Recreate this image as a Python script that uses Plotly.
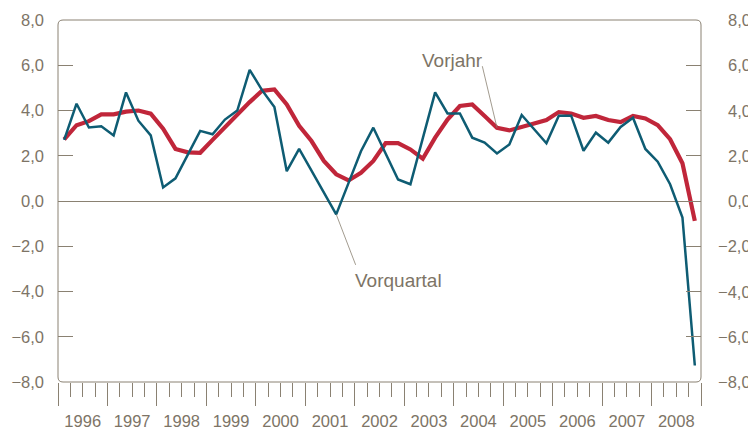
import plotly.graph_objects as go

# ---------------- data ----------------
years = list(range(1996, 2009))
quarters = [f"{y} Q{q}" for y in years for q in range(1, 5)]

vorquartal = [
    2.70, 4.30, 3.25, 3.30,   # 1996
    2.90, 4.80, 3.55, 2.90,   # 1997
    0.60, 1.00, 2.05, 3.10,   # 1998
    2.95, 3.60, 4.00, 5.80,   # 1999
    4.90, 4.15, 1.32, 2.30,   # 2000
    1.34, 0.38, -0.59, 0.80,  # 2001
    2.20, 3.24, 2.10, 0.95,   # 2002
    0.74, 2.80, 4.80, 3.87,   # 2003
    3.87, 2.80, 2.58, 2.10,   # 2004
    2.50, 3.80, 3.15, 2.55,   # 2005
    3.77, 3.77, 2.22, 3.02,   # 2006
    2.58, 3.27, 3.68, 2.30,   # 2007
    1.74, 0.74, -0.73, -7.27, # 2008
]

vorjahr = [
    2.72, 3.35, 3.53, 3.83,   # 1996
    3.83, 3.95, 4.00, 3.86,   # 1997
    3.20, 2.30, 2.15, 2.13,   # 1998
    2.70, 3.27, 3.82, 4.37,   # 1999
    4.87, 4.93, 4.27, 3.32,   # 2000
    2.65, 1.77, 1.18, 0.91,   # 2001
    1.25, 1.77, 2.56, 2.56,   # 2002
    2.28, 1.87, 2.80, 3.60,   # 2003
    4.20, 4.27, 3.76, 3.24,   # 2004
    3.12, 3.27, 3.39, 3.58,   # 2005
    3.93, 3.87, 3.68, 3.76,   # 2006
    3.58, 3.49, 3.76, 3.65,   # 2007
    3.35, 2.73, 1.67, -0.88,  # 2008
]

y_ticks = [-8, -6, -4, -2, 0, 2, 4, 6, 8]
y_tick_labels = ["\u22128,0", "\u22126,0", "\u22124,0", "\u22122,0", "0,0", "2,0", "4,0", "6,0", "8,0"]
year_labels = [str(y) for y in years]

# label anchors (index into quarters)
vorjahr_label_idx = quarters.index("2004 Q4")
vorquartal_label_idx = quarters.index("2001 Q3")

# ---------------- styling ----------------
FONT = "Liberation Sans Narrow, Arial Narrow, Liberation Sans, Arial, sans-serif"
TXT = "#7d7466"
AX = "#8a8172"
BLUE = "#0e5c73"
RED = "#c0263a"
TICK_FS = 16.5
LABEL_FS = 19

x = list(range(len(quarters)))
n = len(quarters)
year_centers = [4 * i + 1.5 for i in range(len(years))]
year_bounds = [4 * i - 0.5 for i in range(len(years) + 1)]
quarter_bounds = [q - 0.5 for q in range(n + 1) if (q % 4) not in (0, 2)]

fig = go.Figure()
fig.add_trace(go.Scatter(x=x, y=vorjahr, mode="lines", name="Vorjahr",
                         line=dict(color=RED, width=4.2), hoverinfo="skip"))
fig.add_trace(go.Scatter(x=x, y=vorquartal, mode="lines", name="Vorquartal",
                         line=dict(color=BLUE, width=2.5), hoverinfo="skip"))

# the page body adds an 8px margin, so the figure is 8px smaller
W, H = 748, 421
ml, mr, mt, mb = 50, 55, 12, 47
pw, ph = W - ml - mr, H - mt - mb

fig.update_layout(
    width=W, height=H,
    margin=dict(l=ml, r=mr, t=mt, b=mb, pad=0, autoexpand=False),
    paper_bgcolor="white", plot_bgcolor="white",
    showlegend=False,
    font=dict(family=FONT, color=TXT, size=TICK_FS),
    xaxis=dict(
        range=[-0.5, n - 0.5], showgrid=False, zeroline=False, showline=False,
        automargin=False,
        tickmode="array", tickvals=year_centers, ticktext=year_labels,
        ticks="outside", ticklen=14, tickwidth=1, tickcolor=AX,
        ticklabelstandoff=10,
        tickfont=dict(family=FONT, color=TXT, size=TICK_FS),
        minor=dict(tickmode="array", tickvals=quarter_bounds, ticks="outside",
                   ticklen=14, tickwidth=1, tickcolor=AX, showgrid=False),
    ),
    xaxis2=dict(
        range=[-0.5, n - 0.5], overlaying="x", side="bottom", anchor="y",
        automargin=False,
        showgrid=False, zeroline=False, showline=False,
        tickmode="array", tickvals=year_bounds, ticks="outside", ticklen=23,
        tickwidth=1, tickcolor=AX, showticklabels=False,
    ),
    yaxis=dict(
        range=[-8, 8], showgrid=False, showline=False, automargin=False,
        zeroline=True, zerolinecolor=AX, zerolinewidth=1,
        tickmode="array", tickvals=y_ticks, ticktext=y_tick_labels,
        ticks="inside", ticklen=15, tickwidth=1, tickcolor=AX, mirror="ticks",
        ticklabelstandoff=13,
        tickfont=dict(family=FONT, color=TXT, size=TICK_FS),
    ),
)

# invisible trace on xaxis2 so the overlay axis is drawn
fig.add_trace(go.Scatter(x=[x[0]], y=[None], xaxis="x2", yaxis="y",
                         mode="lines", showlegend=False, hoverinfo="skip"))

# rounded frame (paper coords)
rx, ry = 5 / pw, 5 / ph
path = (f"M {rx},0 L {1-rx},0 Q 1,0 1,{ry} L 1,{1-ry} Q 1,1 {1-rx},1 "
        f"L {rx},1 Q 0,1 0,{1-ry} L 0,{ry} Q 0,0 {rx},0 Z")
fig.add_shape(type="path", path=path, xref="paper", yref="paper",
              line=dict(color=AX, width=1), layer="above")

# right-hand tick labels, right-aligned like the original
for v, lab in zip(y_ticks, y_tick_labels):
    fig.add_annotation(x=1 + 52 / pw, y=v, xref="paper", yref="y", text=lab,
                       showarrow=False, xanchor="right", yanchor="middle",
                       font=dict(family=FONT, color=TXT, size=TICK_FS))

# leader lines
fig.add_annotation(x=vorjahr_label_idx, y=vorjahr[vorjahr_label_idx], xref="x", yref="y",
                   text="", showarrow=True, arrowhead=0, arrowwidth=0.8,
                   arrowcolor=AX, ax=-15, ay=-63, standoff=0)
fig.add_annotation(x=vorquartal_label_idx, y=vorquartal[vorquartal_label_idx], xref="x", yref="y",
                   text="", showarrow=True, arrowhead=0, arrowwidth=0.8,
                   arrowcolor=AX, ax=20, ay=52, standoff=0)
# series labels
fig.add_annotation(x=vorjahr_label_idx, y=vorjahr[vorjahr_label_idx], xref="x", yref="y",
                   text="Vorjahr", showarrow=False, xanchor="center", yanchor="middle",
                   xshift=-44, yshift=67, font=dict(family=FONT, color=TXT, size=LABEL_FS))
fig.add_annotation(x=vorquartal_label_idx, y=vorquartal[vorquartal_label_idx], xref="x", yref="y",
                   text="Vorquartal", showarrow=False, xanchor="center", yanchor="middle",
                   xshift=62, yshift=-66, font=dict(family=FONT, color=TXT, size=LABEL_FS))

fig.write_html("out.html")
